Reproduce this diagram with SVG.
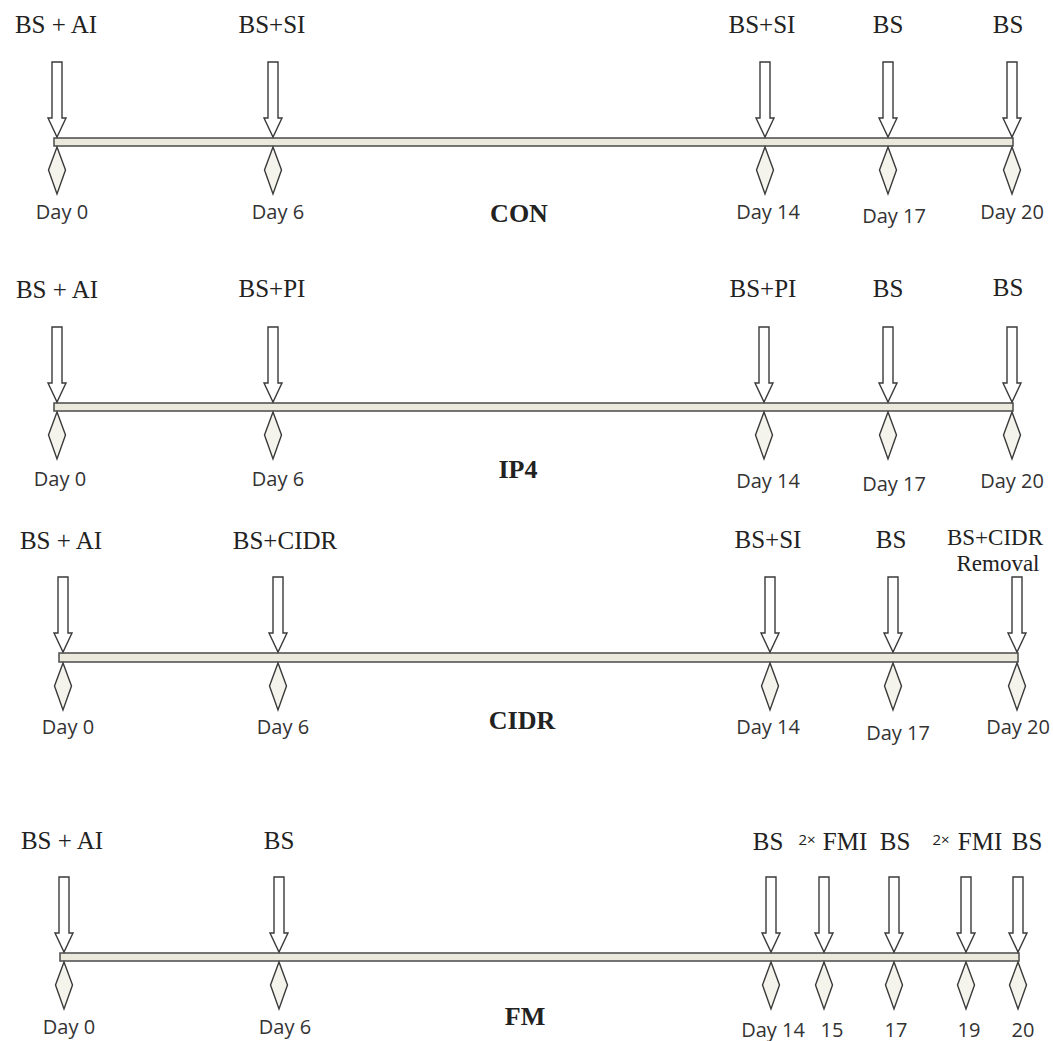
<svg xmlns="http://www.w3.org/2000/svg" xmlns:xlink="http://www.w3.org/1999/xlink" width="1053" height="1041" viewBox="0 0 1053 1041">
<style>
.bar{fill:#ebe9db;stroke:#4a4a4a;stroke-width:1.5}
.arr{fill:#fff;stroke:#3a3a3a;stroke-width:1.4;stroke-linejoin:miter}
.dia{fill:#f5f4ec;stroke:#3a3a3a;stroke-width:1.4}
.ev{font-family:"Liberation Serif","Times New Roman",serif;font-size:25px;fill:#222;text-anchor:middle}
.ev2{font-family:"Liberation Serif","Times New Roman",serif;font-size:23px;fill:#222;text-anchor:middle}
.day{font-family:"Open Sans","Noto Sans",sans-serif;font-size:20px;fill:#333;text-anchor:middle}
.ttl{font-family:"Liberation Serif","Times New Roman",serif;font-size:26px;font-weight:bold;fill:#222;text-anchor:middle}
.sm{font-family:"Open Sans","Noto Sans",sans-serif;font-size:15px;fill:#222;text-anchor:middle}
</style>
<defs>
<path id="arrow" class="arr" d="M-5,-75 H5 V-19 H9 L0,0 L-9,-19 H-5 Z"/>
<path id="diamond" class="dia" d="M0,0 L8.5,23 L0,47 L-8.5,23 Z"/>
</defs>
<rect width="1053" height="1041" fill="#fff"/>

<g id="connectors">
<rect class="bar" x="54" y="138" width="959" height="8"/>
<rect class="bar" x="54" y="403" width="959" height="8"/>
<rect class="bar" x="59" y="653" width="959" height="9"/>
<rect class="bar" x="60" y="953" width="959" height="8"/>
</g>

<!-- CON -->
<g id="con">
<g id="con-d0"><text class="ev" x="56" y="33">BS + AI</text><use href="#arrow" x="57" y="137"/><use href="#diamond" x="57" y="147"/><text class="day" x="62" y="219">Day 0</text></g>
<g id="con-d6"><text class="ev" x="272" y="33">BS+SI</text><use href="#arrow" x="273" y="137"/><use href="#diamond" x="273" y="147"/><text class="day" x="278" y="219">Day 6</text></g>
<g id="con-d14"><text class="ev" x="762" y="33">BS+SI</text><use href="#arrow" x="765" y="137"/><use href="#diamond" x="765" y="147"/><text class="day" x="768" y="219">Day 14</text></g>
<g id="con-d17"><text class="ev" x="888" y="33">BS</text><use href="#arrow" x="888" y="137"/><use href="#diamond" x="888" y="147"/><text class="day" x="894" y="223">Day 17</text></g>
<g id="con-d20"><text class="ev" x="1008" y="33">BS</text><use href="#arrow" x="1012" y="137"/><use href="#diamond" x="1012" y="147"/><text class="day" x="1012" y="219">Day 20</text></g>
<text class="ttl" x="519" y="222">CON</text>
</g>

<!-- IP4 -->
<g id="ip4">
<g id="ip4-d0"><text class="ev" x="57" y="298">BS + AI</text><use href="#arrow" x="57" y="402"/><use href="#diamond" x="57" y="412"/><text class="day" x="60" y="486">Day 0</text></g>
<g id="ip4-d6"><text class="ev" x="272" y="297">BS+PI</text><use href="#arrow" x="273" y="402"/><use href="#diamond" x="273" y="412"/><text class="day" x="278" y="486">Day 6</text></g>
<g id="ip4-d14"><text class="ev" x="763" y="297">BS+PI</text><use href="#arrow" x="764" y="402"/><use href="#diamond" x="764" y="412"/><text class="day" x="768" y="488">Day 14</text></g>
<g id="ip4-d17"><text class="ev" x="888" y="297">BS</text><use href="#arrow" x="888" y="402"/><use href="#diamond" x="888" y="412"/><text class="day" x="894" y="491">Day 17</text></g>
<g id="ip4-d20"><text class="ev" x="1008" y="296">BS</text><use href="#arrow" x="1012" y="402"/><use href="#diamond" x="1012" y="412"/><text class="day" x="1012" y="488">Day 20</text></g>
<text class="ttl" x="518" y="478">IP4</text>
</g>

<!-- CIDR -->
<g id="cidr">
<g id="cidr-d0"><text class="ev" x="61" y="549">BS + AI</text><use href="#arrow" x="63" y="652"/><use href="#diamond" x="63" y="663"/><text class="day" x="68" y="734">Day 0</text></g>
<g id="cidr-d6"><text class="ev" x="285" y="549">BS+CIDR</text><use href="#arrow" x="278" y="652"/><use href="#diamond" x="278" y="663"/><text class="day" x="283" y="734">Day 6</text></g>
<g id="cidr-d14"><text class="ev" x="768" y="548">BS+SI</text><use href="#arrow" x="770" y="652"/><use href="#diamond" x="770" y="663"/><text class="day" x="768" y="734">Day 14</text></g>
<g id="cidr-d17"><text class="ev" x="891" y="548">BS</text><use href="#arrow" x="893" y="652"/><use href="#diamond" x="893" y="663"/><text class="day" x="898" y="740">Day 17</text></g>
<g id="cidr-d20"><text class="ev2" x="995" y="545">BS+CIDR</text><text class="ev2" x="998" y="571">Removal</text><use href="#arrow" x="1017" y="652"/><use href="#diamond" x="1017" y="663"/><text class="day" x="1018" y="734">Day 20</text></g>
<text class="ttl" x="522" y="729">CIDR</text>
</g>

<!-- FM -->
<g id="fm">
<g id="fm-d0"><text class="ev" x="62" y="849">BS + AI</text><use href="#arrow" x="64" y="952"/><use href="#diamond" x="64" y="962"/><text class="day" x="69" y="1034">Day 0</text></g>
<g id="fm-d6"><text class="ev" x="279" y="849">BS</text><use href="#arrow" x="279" y="952"/><use href="#diamond" x="279" y="962"/><text class="day" x="285" y="1034">Day 6</text></g>
<g id="fm-d14"><text class="ev" x="768" y="850">BS</text><use href="#arrow" x="771" y="952"/><use href="#diamond" x="771" y="962"/><text class="day" x="773" y="1037">Day 14</text></g>
<g id="fm-d15"><text class="sm" x="807" y="845">2×</text><text class="ev" x="845" y="850">FMI</text><use href="#arrow" x="824" y="952"/><use href="#diamond" x="824" y="962"/><text class="day" x="832" y="1037">15</text></g>
<g id="fm-d17"><text class="ev" x="895" y="850">BS</text><use href="#arrow" x="894" y="952"/><use href="#diamond" x="894" y="962"/><text class="day" x="896" y="1037">17</text></g>
<g id="fm-d19"><text class="sm" x="941" y="845">2×</text><text class="ev" x="980" y="850">FMI</text><use href="#arrow" x="966" y="952"/><use href="#diamond" x="966" y="962"/><text class="day" x="969" y="1037">19</text></g>
<g id="fm-d20"><text class="ev" x="1027" y="850">BS</text><use href="#arrow" x="1018" y="952"/><use href="#diamond" x="1018" y="962"/><text class="day" x="1023" y="1037">20</text></g>
<text class="ttl" x="525" y="1025">FM</text>
</g>
</svg>
